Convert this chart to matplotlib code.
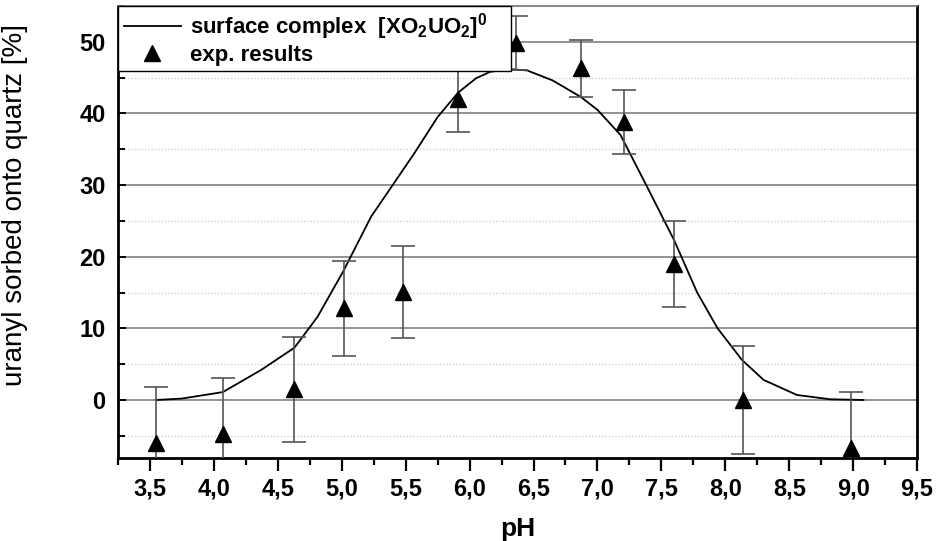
import matplotlib.pyplot as plt
import numpy as np
from matplotlib.lines import Line2D
from matplotlib.ticker import MultipleLocator, FuncFormatter

plt.rcParams['font.family'] = ['Liberation Sans', 'DejaVu Sans']
plt.rcParams['mathtext.fontset'] = 'custom'
plt.rcParams['mathtext.rm'] = 'Liberation Sans:bold'
plt.rcParams['mathtext.bf'] = 'Liberation Sans:bold'

# measured sorption values (pH, % sorbed, error)
ph_exp = [3.55, 4.07, 4.63, 5.02, 5.48, 5.91, 6.36, 6.87, 7.21, 7.60, 8.14, 8.98]
sorbed_exp = [-6.0, -4.7, 1.5, 12.8, 15.1, 42.0, 49.8, 46.3, 38.8, 19.0, 0.0, -6.7]
sorbed_err = [7.8, 7.8, 7.3, 6.6, 6.4, 4.6, 3.8, 4.0, 4.5, 6.0, 7.5, 7.8]

# modelled surface complex curve
ph_model = [3.55, 3.75, 4.07, 4.37, 4.63, 4.81, 5.01, 5.23, 5.41, 5.57, 5.75,
            5.91, 6.05, 6.16, 6.30, 6.45, 6.65, 6.87, 7.00, 7.18, 7.39, 7.60,
            7.78, 7.94, 8.13, 8.30, 8.56, 8.82, 9.08]
sorbed_model = [0.0, 0.2, 1.1, 4.2, 7.3, 11.6, 17.9, 25.6, 30.3, 34.5, 39.5,
                42.9, 44.9, 45.8, 46.2, 46.0, 44.6, 42.3, 40.5, 37.0, 29.7, 22.3,
                15.0, 10.0, 5.6, 2.8, 0.7, 0.1, 0.0]

fig = plt.figure(figsize=(9.42, 5.41), dpi=100)
ax = fig.add_axes([0.1253, 0.1534, 0.8482, 0.8356])

ax.set_xlim(3.25, 9.5)
ax.set_ylim(-8.1, 55)

ax.yaxis.set_major_locator(MultipleLocator(10))
ax.yaxis.set_minor_locator(MultipleLocator(5))
ax.xaxis.set_major_locator(MultipleLocator(0.5))
ax.xaxis.set_minor_locator(MultipleLocator(0.25))
ax.xaxis.set_major_formatter(FuncFormatter(lambda v, p: f"{v:.1f}".replace(".", ",")))

ax.grid(axis='y', which='major', color='#8a8a8a', lw=1.3)
ax.grid(axis='y', which='minor', color='#c8c8c8', lw=0.9, ls=':')
ax.set_axisbelow(True)

ax.plot(ph_model, sorbed_model, color='black', lw=1.3, zorder=3)
ax.errorbar(ph_exp, sorbed_exp, yerr=sorbed_err, fmt='^', color='black',
            ms=11, ecolor='#555555', elinewidth=1.2, capsize=8.5, capthick=1.2,
            zorder=4)

ax.tick_params(axis='y', which='both', direction='in', left=True, right=False,
               width=1.4, labelsize=17, pad=9)
ax.tick_params(axis='y', which='major', length=6)
ax.tick_params(axis='y', which='minor', length=5)
ax.tick_params(axis='x', which='both', direction='out', width=1.6, labelsize=17)
ax.tick_params(axis='x', which='major', length=9, pad=5)
ax.tick_params(axis='x', which='minor', length=5)
for lab in ax.get_xticklabels() + ax.get_yticklabels():
    lab.set_fontweight('bold')

for side in ['left', 'bottom', 'right']:
    ax.spines[side].set_linewidth(2.0)
ax.spines['top'].set_linewidth(1.2)
ax.spines['top'].set_color('#777777')

ax.set_xlabel("pH", fontsize=19, fontweight='bold', labelpad=12)
ax.set_ylabel("uranyl sorbed onto quartz [%]", fontsize=20)
ax.yaxis.set_label_coords(-0.113, 0.56)

# legend
handles = [Line2D([], [], color='black', lw=1.3),
           Line2D([], [], color='black', marker='^', ls='none', ms=11)]
labels = [r"surface complex  [XO$_2$UO$_2$]$^0$", "exp. results"]
leg = ax.legend(handles, labels, loc='upper left', bbox_to_anchor=(0, 0, 0.492, 1),
                mode='expand', borderaxespad=0, fancybox=False, framealpha=1,
                edgecolor='black', prop={'weight': 'bold', 'size': 16},
                handlelength=2.6, handletextpad=0.4, labelspacing=0.1,
                borderpad=0.25)
leg.get_frame().set_linewidth(1.0)
leg.set_zorder(10)

fig.savefig("out.png", dpi=100)
